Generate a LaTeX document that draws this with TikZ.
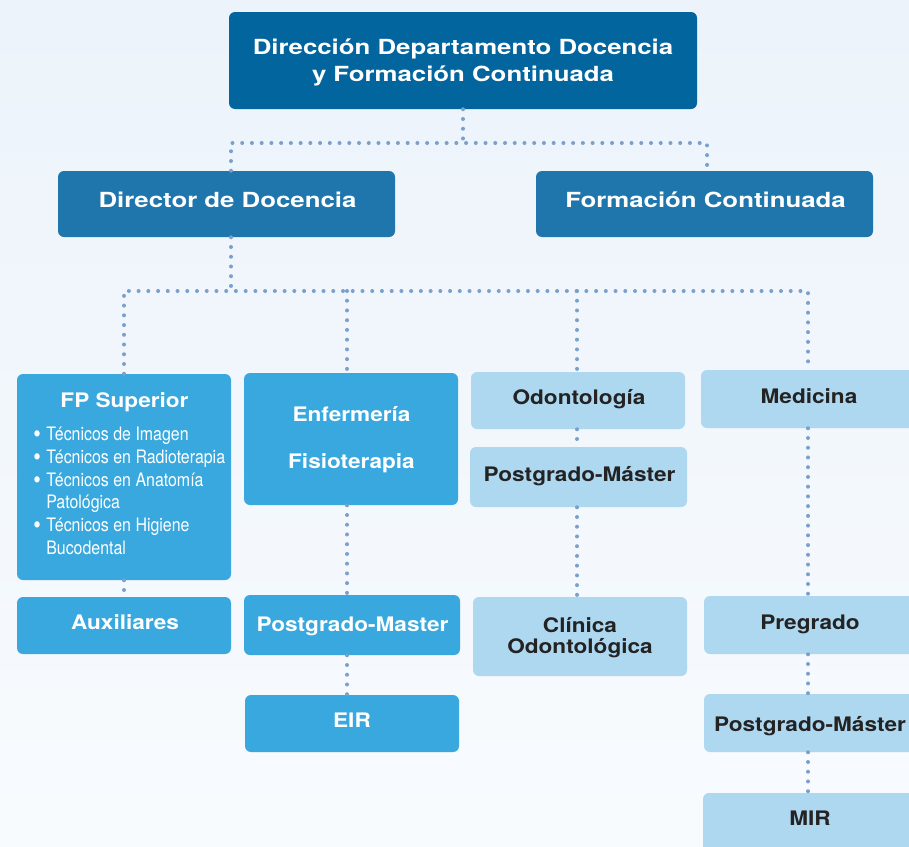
\documentclass[tikz,border=0pt]{standalone}
\usepackage{fontspec}
\setmainfont{TeX Gyre Heros}
\newfontfamily\bigf[FakeStretch=1.24]{TeX Gyre Heros}
\newfontfamily\midf[FakeStretch=1.13]{TeX Gyre Heros}
\newfontfamily\narf[FakeStretch=0.86]{TeX Gyre Heros}
\usetikzlibrary{fit}
\definecolor{cTop}{RGB}{3,101,158}
\definecolor{cLtwo}{RGB}{31,118,172}
\definecolor{cMid}{RGB}{56,168,222}
\definecolor{cLight}{RGB}{174,215,240}
\definecolor{cDot}{RGB}{122,160,204}
\definecolor{cDark}{RGB}{35,35,35}
\definecolor{bgTop}{RGB}{236,243,250}
\definecolor{bgBot}{RGB}{248,251,254}
\newcommand{\fpbul}{\makebox[9.75pt][l]{\raisebox{-1.8pt}{\scalebox{1.35}{•}}}}
\begin{document}
\begin{tikzpicture}[x=0.75pt,y=-0.75pt,
  box/.style={rounded corners=4.5pt, inner sep=0pt, draw=none},
  topbox/.style={box, fill=cTop},
  ltwobox/.style={box, fill=cLtwo},
  midbox/.style={box, fill=cMid},
  lightbox/.style={box, fill=cLight},
  bigtxt/.style={font=\bigf\bfseries\fontsize{15.6}{20.25}\selectfont, text=white, anchor=base, inner sep=0pt},
  wtxt/.style={font=\midf\bfseries\fontsize{15}{16.5}\selectfont, text=white, anchor=base, inner sep=0pt},
  dtxt/.style={font=\midf\bfseries\fontsize{15}{16.5}\selectfont, text=cDark, anchor=base, inner sep=0pt},
  itemtxt/.style={font=\narf\fontsize{13.9}{16}\selectfont, text=white, anchor=base west, inner sep=0pt},
  dots/.style={draw=cDot, line width=3pt, dash pattern=on 0pt off 7.3pt, line cap=round}
]
\useasboundingbox (0,0) rectangle (909,846);
\clip (0,0) rectangle (909,846);
\fill[top color=bgTop, bottom color=bgBot] (0,0) rectangle (909,846);

% boxes
\node[topbox, fit={(229,12) (697,109)}] (top) {};
\node[ltwobox, fit={(58,171) (395,237)}] (dir) {};
\node[ltwobox, fit={(536,171) (873,237)}] (form) {};
\node[midbox, fit={(17,374) (231,580)}] (fp) {};
\node[midbox, fit={(17,597) (231,654)}] (aux) {};
\node[midbox, fit={(244,373) (458,505)}] (enf) {};
\node[midbox, fit={(244,595) (460,655)}] (pgmA) {};
\node[midbox, fit={(245,695) (459,752)}] (eir) {};
\node[lightbox, fit={(471,372) (685,429)}] (odo) {};
\node[lightbox, fit={(470,447) (687,507)}] (pgmB) {};
\node[lightbox, fit={(473,597) (687,676)}] (cli) {};
\node[lightbox, fit={(701,370) (915,428)}] (med) {};
\node[lightbox, fit={(704,596) (918,654)}] (pre) {};
\node[lightbox, fit={(704,694) (918,752)}] (pgmC) {};
\node[lightbox, fit={(703,793) (917,860)}] (mir) {};

% texts
\node[bigtxt] (topA) at (463,54) {Dirección Departamento Docencia};
\node[bigtxt] (topB) at (463,81) {y Formación Continuada};
\node[bigtxt] (dirT) at (227.5,207.5) {Director de Docencia};
\node[bigtxt] (formT) at (705.5,207.5) {Formación Continuada};
\node[wtxt] (fpT) at (124.5,407) {FP Superior};
\node[itemtxt] (it1) at (33,440) {\fpbul Técnicos de Imagen};
\node[itemtxt] (it2) at (33,463) {\fpbul Técnicos en Radioterapia};
\node[itemtxt] (it3) at (33,486) {\fpbul Técnicos en Anatomía};
\node[itemtxt] (it4) at (46,508.5) {Patológica};
\node[itemtxt] (it5) at (33,531.5) {\fpbul Técnicos en Higiene};
\node[itemtxt] (it6) at (46,554.5) {Bucodental};
\node[wtxt] (auxT) at (125,629) {Auxiliares};
\node[wtxt] (enfT) at (351.5,421) {Enfermería};
\node[wtxt] (fisT) at (351.5,468) {Fisioterapia};
\node[wtxt] (pgmAT) at (352.5,631) {Postgrado-Master};
\node[wtxt] (eirT) at (352,727) {EIR};
\node[dtxt] (odoT) at (579,404) {Odontología};
\node[dtxt] (pgmBT) at (579.5,481) {Postgrado-Máster};
\node[dtxt] (cliA) at (580,632.7) {Clínica};
\node[dtxt] (cliB) at (580,653.5) {Odontológica};
\node[dtxt] (medT) at (809,403.3) {Medicina};
\node[dtxt] (preT) at (810,629.3) {Pregrado};
\node[dtxt] (pgmCT) at (810,731.7) {Postgrado-Máster};
\node[dtxt] (mirT) at (810,825.7) {MIR};

% connectors
\coordinate (j1) at (463,143);
\coordinate (jL) at (231,143);
\coordinate (jR) at (707,143);
\coordinate (k0) at (231,291);
\coordinate (ex) at (347,300);
\coordinate (ox) at (577,300);
\draw[dots] (top.south) -- (j1);
\draw[dots] (dir.north -| jL) -- (jL) -- (jR) -- (form.north -| jR);
\draw[dots] (dir.south -| k0) -- (k0);
\draw[dots] (fp.north) -- (fp.north |- k0) -- (med.north |- k0) -- (med.north);
\draw[dots] (ex |- k0) -- (enf.north -| ex);
\draw[dots] (ox |- k0) -- (odo.north -| ox);
\draw[dots] (fp.south) -- (aux.north -| fp.south);
\draw[dots] (enf.south -| ex) -- (pgmA.north -| ex);
\draw[dots] (pgmA.south -| ex) -- (eir.north -| ex);
\draw[dots] (odo.south -| ox) -- (pgmB.north -| ox);
\draw[dots] (pgmB.south -| ox) -- (cli.north -| ox);
\draw[dots] (med.south) -- (pre.north -| med.south);
\draw[dots] (pre.south -| med.south) -- (pgmC.north -| med.south);
\draw[dots] (pgmC.south -| med.south) -- (mir.north -| med.south);
\end{tikzpicture}
\end{document}
